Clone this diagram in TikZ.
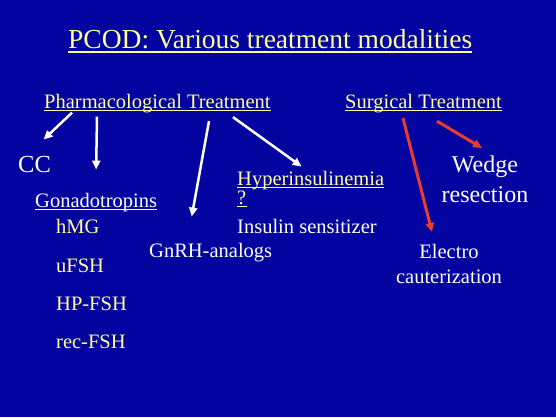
\documentclass[tikz,border=0pt]{standalone}
\usepackage{fontspec}
\setmainfont{Liberation Serif}
\usetikzlibrary{arrows.meta}
\usepackage{xcolor}
\definecolor{slideblue}{RGB}{4,4,160}
\definecolor{paleyellow}{RGB}{255,255,153}
\definecolor{arrowred}{RGB}{235,60,45}
\tikzstyle{heading} = [
anchor=base west,
inner sep=0pt,
text=paleyellow,
font=\fontsize{27.5}{33}\selectfont
]
\tikzstyle{branch} = [
anchor=base west,
inner sep=0pt,
text=paleyellow,
font=\fontsize{20.5}{25}\selectfont
]
\tikzstyle{leaf} = [
anchor=base west,
inner sep=0pt,
text=white,
font=\fontsize{20.5}{25}\selectfont
]
\tikzstyle{bigleaf} = [
anchor=north,
inner sep=0pt,
text=white,
align=center,
font=\fontsize{24}{30}\selectfont
]
\tikzstyle{uline}=[line width=1.1pt]
\tikzstyle{warrow}=[-{Triangle[length=9pt,width=8pt]},white,line width=2.5pt]
\tikzstyle{rarrow}=[-{Triangle[length=9pt,width=8pt]},arrowred,line width=3pt]

\begin{document}
\begin{tikzpicture}[x=1pt,y=-1pt]

        \fill[slideblue] (0,0) rectangle (556,417);

        \node(title)[heading] at (68,49)
        {PCOD: Various treatment modalities};

        \node(pharm)[branch] at (44,108)
        {Pharmacological Treatment};

        \node(surg)[branch] at (345,108)
        {Surgical Treatment};

        \node(cc)[leaf,font=\fontsize{24.5}{30}\selectfont] at (18,172)
        {CC};

        \node(gona)[leaf] at (35,207)
        {Gonadotropins};

        \node(hmg)[branch] at (56,233)
        {hMG};

        \node(ufsh)[branch,yshift=-39pt] at (hmg.base west)
        {uFSH};

        \node(hpfsh)[branch,yshift=-38pt] at (ufsh.base west)
        {HP-FSH};

        \node(recfsh)[branch,yshift=-38pt] at (hpfsh.base west)
        {rec-FSH};

        \node(gnrh)[leaf] at (149,257)
        {GnRH-analogs};

        \node(hyper)[branch] at (237,185)
        {Hyperinsulinemia};

        \node(quest)[branch,yshift=-19pt] at (hyper.base west)
        {?};

        \node(insulin)[leaf] at (237,233)
        {Insulin sensitizer};

        \node(wedge)[bigleaf] at (485,156)
        {Wedge\\resection};

        \node(electro)[bigleaf,font=\fontsize{20.5}{25}\selectfont] at (449,244)
        {Electro\\cauterization};

        % underlines
        \draw[uline,paleyellow] ([yshift=-3pt]title.base west) -- ([yshift=-3pt]title.base east);
        \draw[uline,paleyellow] ([yshift=-2.5pt]pharm.base west) -- ([yshift=-2.5pt]pharm.base east);
        \draw[uline,paleyellow] ([yshift=-2.5pt]surg.base west) -- ([yshift=-2.5pt]surg.base east);
        \draw[uline,white] ([yshift=-2.5pt]gona.base west) -- ([yshift=-2.5pt]gona.base east);
        \draw[uline,paleyellow] ([yshift=-2.5pt]hyper.base west) -- ([yshift=-2.5pt]hyper.base east);
        \draw[uline,paleyellow] ([yshift=-2.5pt]quest.base west) -- ([yshift=-2.5pt]quest.base east);

        \draw[warrow] ([xshift=28pt]pharm.south west) -- ([xshift=9pt,yshift=16pt]cc.north);

        \draw[warrow] ([xshift=53pt,yshift=-4pt]pharm.south west) -- ([yshift=23pt]gona.north);

        \draw[warrow] ([xshift=165pt,yshift=-8.5pt]pharm.south west) -- ([xshift=-19pt,yshift=26pt]gnrh.north);

        \draw[warrow] ([xshift=189pt,yshift=-4.5pt]pharm.south west) -- ([xshift=-9pt,yshift=4pt]hyper.north);

        \draw[rarrow] ([xshift=58pt,yshift=-5.5pt]surg.south west) -- ([xshift=-17pt,yshift=12pt]electro.north);

        \draw[rarrow] ([xshift=92pt,yshift=-8.5pt]surg.south west) -- ([xshift=-3pt,yshift=8pt]wedge.north);

\end{tikzpicture}
\end{document}
